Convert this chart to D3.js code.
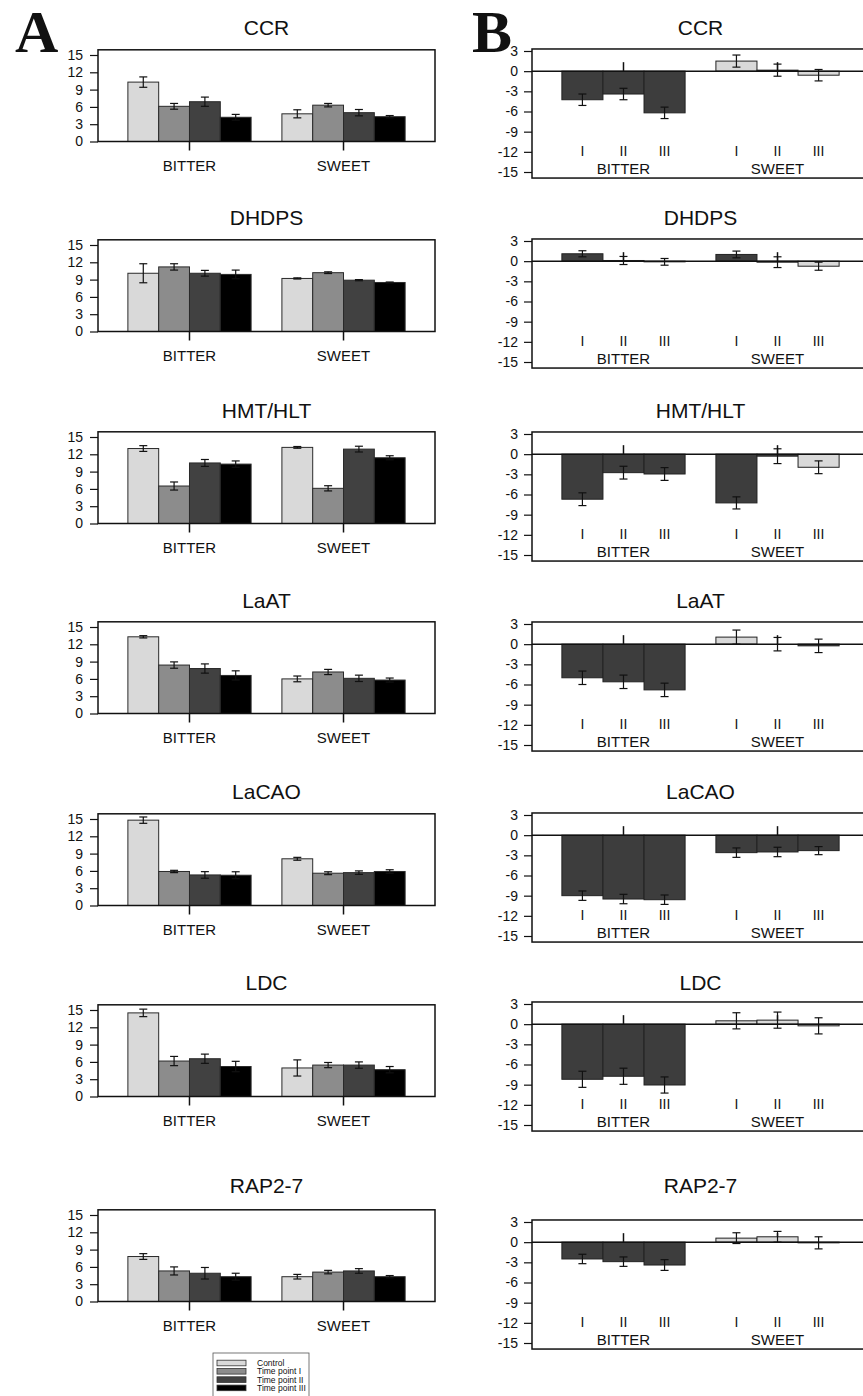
<!DOCTYPE html>
<html><head><meta charset="utf-8">
<script src="https://cdn.jsdelivr.net/npm/d3@7"></script>
<style>
body{margin:0;background:#fff}
svg{display:block}
text{font-family:"Liberation Sans",Arial,sans-serif;fill:#111}
</style></head><body>
<script>
// ---------- DATA ----------
const genes = ["CCR","DHDPS","HMT/HLT","LaAT","LaCAO","LDC","RAP2-7"];
const groups = ["BITTER","SWEET"];
const seriesA = ["Control","Time point I","Time point II","Time point III"];
const timePoints = ["I","II","III"];
const ticksA = [0,3,6,9,12,15];
const ticksB = [3,0,-3,-6,-9,-12,-15];

// Panel A: per gene, [BITTER C, I, II, III, SWEET C, I, II, III]
const meansA = [
  [10.3,6.1,6.9,4.2, 4.8,6.3,5.0,4.3],
  [10.1,11.2,10.1,9.9, 9.2,10.2,8.9,8.5],
  [13.0,6.5,10.5,10.3, 13.2,6.1,12.9,11.4],
  [13.3,8.4,7.8,6.6, 6.0,7.2,6.1,5.8],
  [14.8,5.9,5.3,5.25, 8.1,5.6,5.7,5.9],
  [14.5,6.15,6.55,5.2, 4.95,5.45,5.45,4.65],
  [7.8,5.3,4.9,4.3, 4.3,5.1,5.3,4.3]
];
const errsA = [
  [0.9,0.5,0.8,0.5, 0.7,0.3,0.55,0.2],
  [1.65,0.55,0.5,0.75, 0.1,0.15,0.1,0.08],
  [0.5,0.7,0.6,0.55, 0.15,0.45,0.5,0.35],
  [0.2,0.55,0.8,0.8, 0.5,0.45,0.55,0.35],
  [0.55,0.2,0.57,0.6, 0.25,0.25,0.3,0.3],
  [0.65,0.8,0.8,0.9, 1.4,0.45,0.55,0.55],
  [0.5,0.7,1.0,0.6, 0.4,0.3,0.4,0.2]
];
// Panel B: per gene, [BITTER I, II, III, SWEET I, II, III]
const valuesB = [
  [-4.25,-3.4,-6.2, 1.5,0.15,-0.6],
  [1.1,0.1,-0.1, 1.0,-0.15,-0.75],
  [-6.7,-2.75,-2.95, -7.25,-0.3,-1.95],
  [-5.0,-5.6,-6.8, 1.05,0.0,-0.25],
  [-9.0,-9.5,-9.6, -2.6,-2.5,-2.3],
  [-8.2,-7.75,-9.05, 0.5,0.6,-0.25],
  [-2.5,-2.9,-3.4, 0.6,0.8,-0.1]
];
const errsB = [
  [0.85,0.85,0.85, 0.9,0.9,0.85],
  [0.45,0.6,0.5, 0.5,0.8,0.6],
  [0.95,0.95,0.95, 0.9,1.1,0.95],
  [1.0,1.0,1.0, 1.05,1.0,1.0],
  [0.7,0.7,0.7, 0.7,0.7,0.6],
  [1.2,1.2,1.2, 1.2,1.2,1.2],
  [0.7,0.7,0.8, 0.8,0.8,0.9]
];
const shadesB = [
  ["d","d","d","l","l","l"],
  ["d","d","d","d","d","l"],
  ["d","d","d","d","d","l"],
  ["d","d","d","l","l","d"],
  ["d","d","d","d","d","d"],
  ["d","d","d","l","l","l"],
  ["d","d","d","l","l","l"]
];

// ---------- LAYOUT ----------
const W = 863, H = 1396;
const aLeft = 98, aRight = 435, bLeft = 532, bRight = 869;
const titleY = [35,225,418,608,799,990,1193];
const aY15 = [55,245,437,627,819,1010,1215];
const bY3 = [51,241,434,624,815,1004,1222];
const colorsA = ["#d9d9d9","#8c8c8c","#414141","#000000"];
const shadeColor = {d:"#3d3d3d", l:"#d9d9d9"};

const svg = d3.select("body").append("svg").attr("width",W).attr("height",H);
svg.append("rect").attr("width",W).attr("height",H).attr("fill","#fff");

svg.append("text").attr("x",15).attr("y",52).text("A")
  .style("font-family","'Liberation Serif','Times New Roman',serif").style("font-weight","bold").style("font-size","60px");
svg.append("text").attr("x",472).attr("y",52).text("B")
  .style("font-family","'Liberation Serif','Times New Roman',serif").style("font-weight","bold").style("font-size","60px");

function errBar(g, x, y1, y2){
  g.append("line").attr("x1",x).attr("x2",x).attr("y1",y1).attr("y2",y2).attr("stroke","#111").attr("stroke-width",1.2);
  [y1,y2].forEach(y=>g.append("line").attr("x1",x-4).attr("x2",x+4).attr("y1",y).attr("y2",y).attr("stroke","#111").attr("stroke-width",1.2));
}

genes.forEach((gene, gi) => {
  // ----- Panel A -----
  const gA = svg.append("g");
  const yA = d3.scaleLinear().domain([0,15]).range([aY15[gi]+86.5, aY15[gi]]);
  const xA = d3.scaleBand().domain(groups).range([aLeft,aRight]).paddingInner(0.2).paddingOuter(0.194);
  const xAi = d3.scaleBand().domain(seriesA).range([0,xA.bandwidth()]);
  gA.append("text").attr("x",(aLeft+aRight)/2).attr("y",titleY[gi]).attr("text-anchor","middle")
    .style("font-size","21px").text(gene);
  groups.forEach((grp, k) => {
    seriesA.forEach((s, j) => {
      const v = meansA[gi][k*4+j];
      gA.append("rect").attr("x",xA(grp)+xAi(s)).attr("width",xAi.bandwidth())
        .attr("y",yA(v)).attr("height",yA(0)-yA(v))
        .attr("fill",colorsA[j]).attr("stroke","#2a2a2a").attr("stroke-width",1);
    });
    seriesA.forEach((s, j) => {
      const v = meansA[gi][k*4+j], e = errsA[gi][k*4+j];
      errBar(gA, xA(grp)+xAi(s)+xAi.bandwidth()/2, yA(v+e), yA(v-e));
    });
    const cx = xA(grp)+xA.bandwidth()/2;
    gA.append("line").attr("x1",cx).attr("x2",cx).attr("y1",yA(0)).attr("y2",yA(0)+9).attr("stroke","#111").attr("stroke-width",1.5);
    gA.append("text").attr("x",cx).attr("y",yA(0)+29).attr("text-anchor","middle").style("font-size","15px").text(grp);
  });
  gA.append("rect").attr("x",aLeft).attr("y",yA(15.9)).attr("width",aRight-aLeft).attr("height",yA(0)-yA(15.9))
    .attr("fill","none").attr("stroke","#111").attr("stroke-width",1.5);
  const axA = gA.append("g").attr("transform",`translate(${aLeft},0)`)
    .call(d3.axisLeft(yA).tickValues(ticksA).tickFormat(d=>String(d)).tickSize(8).tickPadding(7));
  axA.select(".domain").remove();
  axA.selectAll(".tick line").attr("stroke","#111").attr("stroke-width",1.2);
  axA.selectAll(".tick text").style("font-size","14px").attr("fill","#111").style("font-family","'Liberation Sans',Arial,sans-serif");

  // ----- Panel B -----
  const gB = svg.append("g");
  const yB = d3.scaleLinear().domain([-15,3]).range([bY3[gi]+121, bY3[gi]]);
  const xB = d3.scaleBand().domain(groups).range([bLeft,bRight]).paddingInner(0.2).paddingOuter(0.194);
  const xBi = d3.scaleBand().domain(timePoints).range([0,xB.bandwidth()]);
  gB.append("text").attr("x",(bLeft+bRight)/2).attr("y",titleY[gi]).attr("text-anchor","middle")
    .style("font-size","21px").text(gene);
  groups.forEach((grp, k) => {
    const cx = xB(grp)+xB.bandwidth()/2;
    gB.append("line").attr("x1",cx).attr("x2",cx).attr("y1",yB(0)).attr("y2",yB(0)-9).attr("stroke","#111").attr("stroke-width",1.5);
    timePoints.forEach((t, j) => {
      const v = valuesB[gi][k*3+j];
      gB.append("rect").attr("x",xB(grp)+xBi(t)).attr("width",xBi.bandwidth())
        .attr("y",yB(Math.max(0,v))).attr("height",Math.abs(yB(v)-yB(0)))
        .attr("fill",shadeColor[shadesB[gi][k*3+j]]).attr("stroke","#222").attr("stroke-width",1);
    });
    timePoints.forEach((t, j) => {
      const v = valuesB[gi][k*3+j], e = errsB[gi][k*3+j];
      const bx = xB(grp)+xBi(t)+xBi.bandwidth()/2;
      errBar(gB, bx, yB(v+e), yB(v-e));
      gB.append("text").attr("x",bx).attr("y",yB(-12)+4).attr("text-anchor","middle").style("font-size","14px").text(t);
    });
    gB.append("text").attr("x",cx).attr("y",yB(-15)+2).attr("text-anchor","middle").style("font-size","15px").text(grp);
  });
  gB.append("line").attr("x1",bLeft).attr("x2",bRight).attr("y1",yB(0)).attr("y2",yB(0)).attr("stroke","#111").attr("stroke-width",1.5);
  gB.append("rect").attr("x",bLeft).attr("y",yB(3.3)).attr("width",bRight-bLeft).attr("height",yB(-15.9)-yB(3.3))
    .attr("fill","none").attr("stroke","#111").attr("stroke-width",1.5);
  const axB = gB.append("g").attr("transform",`translate(${bLeft},0)`)
    .call(d3.axisLeft(yB).tickValues(ticksB).tickFormat(d=>String(d)).tickSize(8).tickPadding(6));
  axB.select(".domain").remove();
  axB.selectAll(".tick line").attr("stroke","#111").attr("stroke-width",1.2);
  axB.selectAll(".tick text").style("font-size","14px").attr("fill","#111").style("font-family","'Liberation Sans',Arial,sans-serif");
});

// ----- Legend -----
const lg = svg.append("g");
lg.append("rect").attr("x",213).attr("y",1353).attr("width",96).attr("height",50)
  .attr("fill","#fff").attr("stroke","#555").attr("stroke-width",0.8);
seriesA.forEach((s, i) => {
  const cy = 1363 + i*8.3;
  lg.append("rect").attr("x",217).attr("y",cy-2.8).attr("width",29).attr("height",5.6)
    .attr("fill",colorsA[i]).attr("stroke","#333").attr("stroke-width",0.8);
  lg.append("text").attr("x",257).attr("y",cy).attr("dy","0.35em").style("font-size","8.5px").text(s);
});
</script>
</body></html>
